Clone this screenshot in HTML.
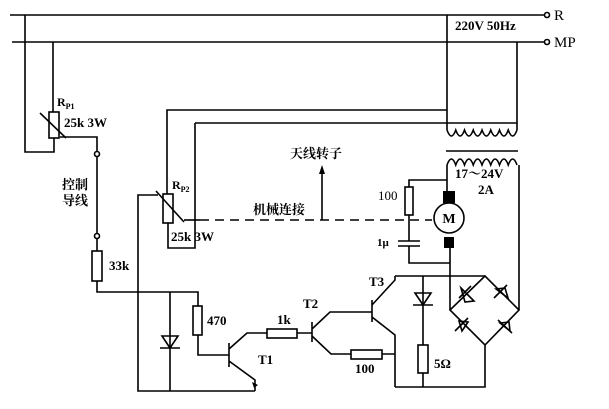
<!DOCTYPE html>
<html><head><style>body{margin:0;background:#fff}svg{display:block}</style></head><body>
<svg width="609" height="409" viewBox="0 0 609 409" xmlns="http://www.w3.org/2000/svg" font-family="'Liberation Serif','Noto Serif CJK SC',serif" font-weight="bold" font-size="13">
<g stroke="#000" stroke-width="1.6" fill="none">
<path d="M10 15H544M12 42H544"/>
<circle cx="547" cy="15" r="2.5"/><circle cx="547" cy="42" r="2.5"/>
<path d="M25 15V152H54V138M53 42V112"/>
<rect x="49" y="112" width="10" height="26" fill="#fff"/>
<path d="M40 113L66 138"/>
<path d="M60 137H97V151"/>
<circle cx="97" cy="154" r="2.5"/>
<path d="M97 157V233"/>
<circle cx="97" cy="236" r="2.5"/>
<path d="M97 239V251"/>
<rect x="92" y="251" width="10" height="30" fill="#fff"/>
<path d="M97 281V292H198V306"/>
<path d="M167 194V110H447M195 123H517M195 123V248H168V223"/>
<rect x="163" y="194" width="10" height="29" fill="#fff"/>
<path d="M156 191L184 222"/>
<path d="M158 195H138V391H255"/>
<path d="M184 220H200"/>
<path d="M200 220H432" stroke-dasharray="9,6"/>
<path d="M322 220V172"/>
<path d="M447 15V130M517 42V130"/>
<path d="M447 130q4.4 12 8.75 0q4.4 12 8.75 0q4.4 12 8.75 0q4.4 12 8.75 0q4.4 12 8.75 0q4.4 12 8.75 0q4.4 12 8.75 0q4.4 12 8.75 0"/>
<path d="M446 151H518"/>
<path d="M447 165q4.4 -12 8.75 0q4.4 -12 8.75 0q4.4 -12 8.75 0q4.4 -12 8.75 0q4.4 -12 8.75 0q4.4 -12 8.75 0q4.4 -12 8.75 0q4.4 -12 8.75 0"/>
<path d="M447 165V191M519 165V310"/>
<path d="M447 180H409V187"/>
<rect x="405" y="187" width="8" height="28" fill="#fff"/>
<path d="M409 215V241M398 241H420M398 246H420M409 246V263H450M450 248V310"/>
<circle cx="449" cy="218" r="15" fill="#fff"/>
<path d="M485 276L450 310L485 345L519 310ZM485 345V387H395"/>
<path d="M395 276H485M423 276V345"/>
<rect x="418" y="345" width="10" height="28" fill="#fff"/>
<path d="M423 373V387"/>
<path d="M170 292V391M198 335V355H229"/>
<rect x="193" y="306" width="9" height="29" fill="#fff"/>
<path d="M229 343V367M229 349L247 333H267M229 361L255 380V391"/>
<rect x="267" y="329" width="30" height="9" fill="#fff"/>
<path d="M297 333H312M312 322V342M312 329L330 312H372M312 336L331 354H351"/>
<rect x="351" y="350" width="31" height="9" fill="#fff"/>
<path d="M382 354H395M372 300V322M372 305L395 280V276M372 317L395 335V387"/>
<path d="M162 336L178 336L170 348ZM160 348H180"/>
<path d="M415 293L431 293L423 305ZM413 305H433"/>
<path d="M461 288L474 301L465 302ZM459 298L471 286"/>
<path d="M496 289L505 288L508 298ZM494 298L507 285"/>
<path d="M459 321L468 322L462 331ZM455 331L468 318"/>
<path d="M500 323L509 322L510 331ZM498 320L512 333"/>
</g>
<rect x="443" y="191" width="12" height="12"/><rect x="444" y="237" width="10" height="11"/>
<path d="M322 165l-3 9h6z"/>
<path d="M252 382l6 3l-4 3z"/>
<text x="449" y="223" font-size="14" text-anchor="middle">M</text>
<text x="57" y="106" font-size="12">R<tspan font-size="8" dy="3">P1</tspan></text>
<text x="64" y="127">25k 3W</text>
<text x="172" y="189" font-size="12">R<tspan font-size="8" dy="3">P2</tspan></text>
<text x="171" y="241">25k 3W</text>
<text x="62" y="189">控制</text>
<text x="62" y="205">导线</text>
<text x="109" y="270">33k</text>
<text x="207" y="325">470</text>
<text x="277" y="324">1k</text>
<text x="303" y="308">T2</text>
<text x="369" y="286">T3</text>
<text x="258" y="364">T1</text>
<text x="355" y="373">100</text>
<text x="434" y="368">5Ω</text>
<text x="290" y="158">天线转子</text>
<text x="253" y="214">机械连接</text>
<text x="378" y="200" font-weight="normal">100</text>
<text x="377" y="246" font-size="11">1μ</text>
<text x="455" y="178">17～24V</text>
<text x="478" y="194">2A</text>
<text x="455" y="30" font-size="13">220V 50Hz</text>
<text x="554" y="20" font-size="15" font-weight="normal">R</text>
<text x="554" y="47" font-size="15" font-weight="normal">MP</text>
</svg>
</body></html>
